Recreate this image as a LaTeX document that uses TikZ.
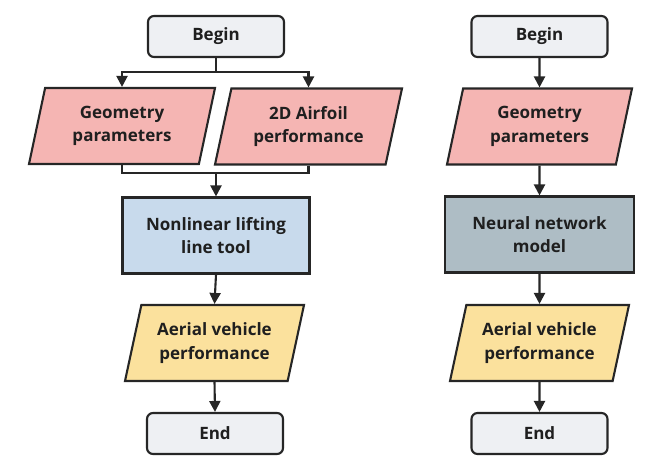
\documentclass[tikz,border=0pt]{standalone}
\usepackage{fontspec}
\setmainfont{Open Sans}
\usetikzlibrary{shapes.geometric,arrows.meta}
\definecolor{lineC}{HTML}{262626}
\definecolor{termC}{HTML}{EEF0F3}
\definecolor{pinkC}{HTML}{F5B5B3}
\definecolor{blueC}{HTML}{C8DAEC}
\definecolor{slateC}{HTML}{AEBDC5}
\definecolor{yellowC}{HTML}{FBE19D}
\tikzset{
  base/.style={draw=lineC, line width=2.1pt, align=center, inner sep=0pt,
    font=\bfseries\fontsize{17}{23.5}\selectfont, text=black!88},
  term/.style={base, rounded corners=6pt, fill=termC, minimum width=136pt, minimum height=41pt},
  iobox/.style={base, trapezium, trapezium left angle=68, trapezium right angle=112,
    trapezium stretches body, minimum height=76pt},
  procbox/.style={base, rectangle, minimum width=187pt, minimum height=76pt},
  conn/.style={draw=lineC, line width=2.1pt},
  arr/.style={conn, -{Triangle[length=11pt,width=11pt]}}
}
\begin{document}
\begin{tikzpicture}[x=1pt,y=-1pt]
\useasboundingbox (0,0) rectangle (667,474);
% left column
\node[term] (lb) at (216,36.5) {Begin};
\node[iobox, fill=pinkC, minimum width=186pt] (lg) at (122,126) {Geometry\\parameters};
\node[iobox, fill=pinkC, minimum width=187pt] (la) at (308.5,126.5) {2D Airfoil\\performance};
\node[procbox, fill=blueC] (ln) at (216,235.5) {Nonlinear lifting\\line tool};
\node[iobox, fill=yellowC, minimum width=179pt] (lv) at (214.5,343) {Aerial vehicle\\performance};
\node[term] (le) at (215,433.5) {End};
\coordinate (lsplit) at (216,72);
\coordinate (lmerge) at (216,173);
\draw[conn] (lb.south) -- (lsplit);
\draw[arr] (lsplit) -| (lg.north);
\draw[arr] (lsplit) -| (la.north);
\draw[conn] (lg.south) |- (lmerge);
\draw[conn] (la.south) |- (lmerge);
\draw[arr] (lmerge) -- (ln.north);
\draw[arr] (ln.south) -- (lv.north);
\draw[arr] (lv.south) -- (le.north);
% right column
\node[term] (rb) at (539.5,36.5) {Begin};
\node[iobox, fill=pinkC, minimum width=185pt] (rg) at (539.5,126.5) {Geometry\\parameters};
\node[procbox, fill=slateC, minimum width=189pt] (rn) at (539.5,234.5) {Neural network\\model};
\node[iobox, fill=yellowC, minimum width=179pt] (rv) at (539.5,343) {Aerial vehicle\\performance};
\node[term] (re) at (539.5,433.5) {End};
\draw[arr] (rb.south) -- (rg.north);
\draw[arr] (rg.south) -- (rn.north);
\draw[arr] (rn.south) -- (rv.north);
\draw[arr] (rv.south) -- (re.north);
\end{tikzpicture}
\end{document}
